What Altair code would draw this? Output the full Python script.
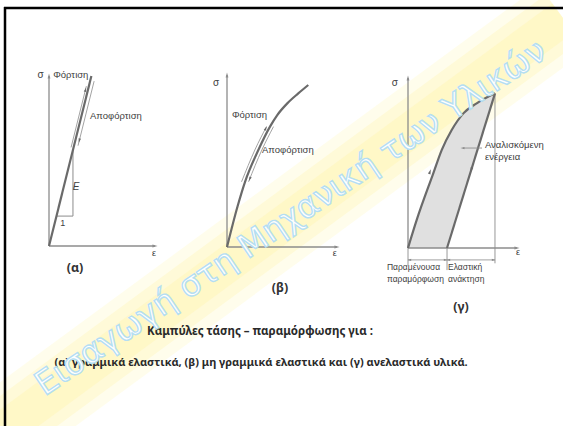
import altair as alt
import pandas as pd

W, H = 563, 426

# ---------------- data (strain ε, stress σ in axis-length units) ----------------
# (α) linear elastic
A_LINE_E = [0.0, 0.40]
A_LINE_S = [0.0, 1.0]
A_LOAD_E = [0.232, 0.376]
A_LOAD_S = [0.58, 0.94]
A_UNLOAD_E = [0.236, 0.388]
A_UNLOAD_S = [0.59, 0.97]
A_TRI_E = [0.071, 0.226, 0.226]
A_TRI_S = [0.176, 0.176, 0.565]

# (β) non-linear elastic
B_E = [0.0, 0.095, 0.164, 0.285, 0.391, 0.457, 0.548, 0.648, 0.739]
B_S = [0.0, 0.234, 0.379, 0.564, 0.700, 0.767, 0.835, 0.893, 0.942]

# (γ) inelastic
C_LOAD_E = [0.0, 0.08, 0.232, 0.309, 0.401, 0.508, 0.63, 0.798]
C_LOAD_S = [0.0, 0.165, 0.439, 0.576, 0.694, 0.792, 0.851, 0.91]
C_UNLOAD_E = [0.798, 0.358]
C_UNLOAD_S = [0.91, 0.0]

# text
A_LABELS = ["σ", "Φόρτιση", "Αποφόρτιση", "E", "1", "ε"]
B_LABELS = ["σ", "Φόρτιση", "Αποφόρτιση", "ε"]
C_LABELS = ["σ", "ε", "Αναλισκόμενη", "ενέργεια", "Παραμένουσα", "παραμόρφωση",
            "Ελαστική", "ανάκτηση"]
PANEL_TAGS = ["(α)", "(β)", "(γ)"]
CAPTION_1 = "Καμπύλες τάσης – παραμόρφωσης για :"
CAPTION_2 = "(α) γραμμικά ελαστικά, (β) μη γραμμικά ελαστικά και (γ) ανελαστικά υλικά."
WATERMARK = "Εισαγωγή στη Μηχανική των Υλικών"

# ---------------- layout ----------------
PANELS = {
    "a": dict(ox=49, oy=246, lx=106, ly=170),
    "b": dict(ox=227, oy=247, lx=110, ly=172),
    "c": dict(ox=408, oy=248, lx=109, ly=170),
}
LINE_COL = "#6a6a6a"
AXIS_COL = "#8c8c8c"
TXT_COL = "#404040"
LBL_FONT = "Liberation Sans"
LBL_SIZE = 9
ARROW = "M0,-1L0.55,1L-0.55,1Z"
ONE = pd.DataFrame({"k": [0]})


def scales(p):
    sx = alt.Scale(domain=[-p["ox"] / p["lx"], (W - p["ox"]) / p["lx"]], nice=False, zero=False)
    sy = alt.Scale(domain=[-(H - p["oy"]) / p["ly"], p["oy"] / p["ly"]], nice=False, zero=False)
    return sx, sy


def enc(sx, sy):
    return dict(x=alt.X("e:Q", scale=sx, axis=None), y=alt.Y("s:Q", scale=sy, axis=None))


def path(es, ss, sx, sy, **mark):
    df = pd.DataFrame({"e": es, "s": ss, "i": range(len(es))})
    return alt.Chart(df).mark_line(**mark).encode(order="i:Q", **enc(sx, sy))


def arrows(es, ss, angs, sx, sy, color=LINE_COL, size=30, **mark):
    df = pd.DataFrame({"e": es, "s": ss, "a": angs})
    return alt.Chart(df).mark_point(shape=ARROW, filled=True, size=size, color=color,
                                    opacity=1, strokeWidth=0, **mark).encode(
        angle=alt.Angle("a:Q", scale=None), **enc(sx, sy))


def labels(texts, es, ss, sx, sy, align="left", size=LBL_SIZE, **mark):
    df = pd.DataFrame({"t": texts, "e": es, "s": ss})
    return alt.Chart(df).mark_text(align=align, baseline="middle", font=LBL_FONT,
                                   fontSize=size, color=TXT_COL, **mark).encode(
        text="t:N", **enc(sx, sy))


def axes(sx, sy, top=1.0, right=1.0):
    return [
        path([0, 0], [0, top], sx, sy, color=AXIS_COL, strokeWidth=1.3),
        path([0, right], [0, 0], sx, sy, color=AXIS_COL, strokeWidth=1.3),
        arrows([0, right], [top, 0], [0, 90], sx, sy, color=AXIS_COL, size=26),
    ]


# ---------------- panel (α) ----------------
sx, sy = scales(PANELS["a"])
panel_a = alt.layer(
    *axes(sx, sy),
    path(A_TRI_E, A_TRI_S, sx, sy, color=AXIS_COL, strokeWidth=1),
    path(A_LINE_E, A_LINE_S, sx, sy, color=LINE_COL, strokeWidth=2.2),
    path(A_LOAD_E, A_LOAD_S, sx, sy, color=AXIS_COL, strokeWidth=0.8, xOffset=-2.5),
    path(A_UNLOAD_E, A_UNLOAD_S, sx, sy, color=AXIS_COL, strokeWidth=0.8, xOffset=4),
    arrows([0.368], [0.92], [14], sx, sy, size=20, xOffset=-2.5),
    arrows([0.248], [0.62], [194], sx, sy, size=20, xOffset=4),
    labels([A_LABELS[0]], [-0.08], [1.006], sx, sy, align="center", size=10),
    labels(A_LABELS[1:3], [0.04, 0.387], [1.006, 0.765], sx, sy, size=9.5),
    labels([A_LABELS[3]], [0.255], [0.35], sx, sy, align="center", size=10, fontStyle="italic"),
    labels([A_LABELS[4]], [0.13], [0.135], sx, sy, align="center"),
    labels([A_LABELS[5]], [0.99], [-0.04], sx, sy, align="center"),
)

# ---------------- panel (β) ----------------
sx, sy = scales(PANELS["b"])
b_mid = [(e, s) for e, s in zip(B_E, B_S) if 0.37 <= s <= 0.71]
panel_b = alt.layer(
    *axes(sx, sy),
    path(B_E, B_S, sx, sy, color=LINE_COL, strokeWidth=2.2, interpolate="monotone"),
    path([p[0] for p in b_mid], [p[1] for p in b_mid], sx, sy, color=AXIS_COL,
         strokeWidth=0.8, xOffset=-3.5, interpolate="monotone"),
    path([p[0] for p in b_mid], [p[1] for p in b_mid], sx, sy, color=AXIS_COL,
         strokeWidth=0.8, xOffset=3.5, interpolate="monotone"),
    arrows([0.385], [0.69], [27], sx, sy, size=20, xOffset=-3.5),
    arrows([0.175], [0.395], [203], sx, sy, size=20, xOffset=3.5),
    labels([B_LABELS[0]], [-0.1], [0.953], sx, sy, align="center", size=10),
    labels(B_LABELS[1:3], [0.045, 0.318], [0.767, 0.564], sx, sy, size=9.5),
    labels([B_LABELS[3]], [0.98], [-0.035], sx, sy, align="center"),
)

# ---------------- panel (γ) ----------------
sx, sy = scales(PANELS["c"])
loop = pd.DataFrame({"e": C_LOAD_E, "s": C_LOAD_S})
e_top, e_bot, s_top = C_UNLOAD_E[0], C_UNLOAD_E[1], C_UNLOAD_S[0]
area = alt.Chart(loop).transform_calculate(
    e2=f"{e_bot} + ({e_top} - {e_bot}) * datum.s / {s_top}"
).mark_area(orient="horizontal", color="#e0e0e0", interpolate="monotone").encode(
    y=alt.Y("s:Q", scale=sy, axis=None),
    x=alt.X("e:Q", scale=sx, axis=None),
    x2="e2:Q",
)
dim_y = -0.07
panel_c = alt.layer(
    area,
    *axes(sx, sy),
    path([e_top, e_top], [s_top, -0.09], sx, sy, color=AXIS_COL, strokeWidth=0.9),
    path([0, 0], [0, -0.1], sx, sy, color=AXIS_COL, strokeWidth=0.9),
    path([e_bot, e_bot], [0, -0.13], sx, sy, color=AXIS_COL, strokeWidth=0.9),
    path([0, e_bot], [dim_y, dim_y], sx, sy, color=AXIS_COL, strokeWidth=0.8),
    path([e_bot, e_top], [dim_y, dim_y], sx, sy, color=AXIS_COL, strokeWidth=0.8),
    arrows([0.012, e_bot - 0.012, e_bot + 0.012, e_top - 0.012], [dim_y] * 4,
           [270, 90, 270, 90], sx, sy, color=AXIS_COL, size=14),
    path(C_LOAD_E, C_LOAD_S, sx, sy, color=LINE_COL, strokeWidth=2.2, interpolate="monotone"),
    path(C_UNLOAD_E, C_UNLOAD_S, sx, sy, color=LINE_COL, strokeWidth=2.2),
    arrows([0.202, 0.58], [0.449, 0.459], [20, 197], sx, sy, size=24),
    path([0.679, 0.505], [0.588, 0.588], sx, sy, color=AXIS_COL, strokeWidth=0.9),
    arrows([0.5], [0.588], [270], sx, sy, color=AXIS_COL, size=16),
    labels([C_LABELS[0]], [-0.12], [0.97], sx, sy, align="center", size=10),
    labels([C_LABELS[1]], [1.01], [-0.024], sx, sy, align="center"),
    labels(C_LABELS[2:4], [0.706, 0.706], [0.606, 0.535], sx, sy, size=9.5),
    labels(C_LABELS[4:], [-0.193, -0.193, 0.367, 0.367],
           [-0.112, -0.182, -0.112, -0.182], sx, sy, size=8.5),
)

# ---------------- page decorations ----------------
def deco_rule(x, y, x2, y2, **mark):
    return alt.Chart(ONE).mark_rule(**mark).encode(
        x=alt.value(x), y=alt.value(y), x2=alt.value(x2), y2=alt.value(y2))


def deco_text(text, x, y, **mark):
    return alt.Chart(ONE).mark_text(text=text, **mark).encode(x=alt.value(x), y=alt.value(y))


band = alt.layer(
    deco_rule(0, 432, 563, 18, color="#fff4a8", strokeWidth=80, opacity=0.22),
    deco_rule(0, 432, 563, 18, color="#fff4a8", strokeWidth=58, opacity=0.3),
    deco_rule(0, 432, 563, 18, color="#fff4a8", strokeWidth=36, opacity=0.35),
)
frame = alt.layer(
    deco_rule(4, 8, 563, 8, color="#000000", strokeWidth=2.5),
    deco_rule(5, 7, 5, 426, color="#000000", strokeWidth=2.5),
)
tag_pos = [(75, 268), (280, 288), (461, 307)]
tags = [deco_text(t, x, y, font="Noto Sans", fontSize=12.5, fontWeight="bold", color="#333333",
                  align="center", baseline="middle") for t, (x, y) in zip(PANEL_TAGS, tag_pos)]
captions = [
    deco_text(CAPTION_1, 260, 332, font="Noto Sans", fontSize=11.5, fontWeight="bold",
              color="#2a2a2a", align="center", baseline="middle"),
    deco_text(CAPTION_2, 261, 363, font="Noto Sans", fontSize=11, fontWeight="bold",
              color="#2a2a2a", align="center", baseline="middle"),
]
watermark = deco_text(WATERMARK, 291, 218, font="DejaVu Sans", fontSize=33, angle=326,
                      align="center", baseline="middle", fill="#ffffff", stroke="#b5def2",
                      strokeWidth=1.4)

chart = alt.layer(
    band, frame, panel_a, panel_b, panel_c, *tags, *captions, watermark
).resolve_scale(x="independent", y="independent").properties(
    width=W, height=H, padding=0, background="#ffffff",
    autosize=alt.AutoSizeParams(type="none"),
).configure_view(stroke=None)

chart.save("out.html", embed_options={"renderer": "svg", "actions": False})
